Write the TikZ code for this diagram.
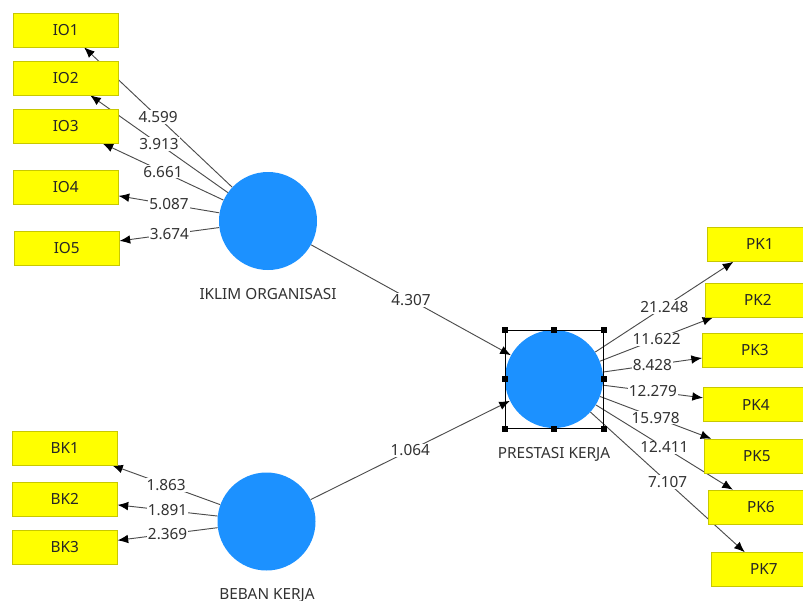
\documentclass[tikz,border=0pt]{standalone}
\usepackage{fontspec}
\setmainfont{Noto Sans}
\usepackage{tikz}
\usetikzlibrary{arrows.meta, backgrounds}

\definecolor{boxyellow}{RGB}{255,255,0}
\definecolor{boxedge}{RGB}{200,200,0}
\definecolor{latentblue}{RGB}{28,145,255}
\definecolor{inktext}{RGB}{50,50,50}

\tikzset{
  indicator/.style={draw=boxedge, fill=boxyellow, minimum width=78.75pt, minimum height=25.5pt,
    inner sep=0pt, anchor=west, font=\fontsize{11.5}{13}\selectfont, text=black!85},
  latent/.style={circle, fill=latentblue, minimum size=73.5pt, inner sep=0pt},
  latentname/.style={anchor=north, inner sep=0pt, font=\fontsize{11.5}{13}\selectfont, text=inktext},
  loading/.style={draw=black!70, line width=0.7pt, -{Latex[length=8pt,width=6.5pt,color=black]}},
  coef/.style={midway, fill=white, inner sep=0.8pt, font=\fontsize{11.5}{13}\selectfont, text=inktext},
  handle/.style={fill=black, minimum size=4.5pt, inner sep=0pt}
}

\begin{document}
\begin{tikzpicture}[x=0.75pt, y=-0.75pt]
  \useasboundingbox (0,0) rectangle (803,600);

  % constructs
  \node[latent] (io) at (268,221) {};
  \node[latent] (bk) at (266.5,521.5) {};
  \node[latent] (pk) at (554,379) {};
  \node[latentname] at (268,288) {IKLIM ORGANISASI};
  \node[latentname] at (267,588) {BEBAN KERJA};
  \node[latentname] at (554,447) {PRESTASI KERJA};

  % selection frame round PRESTASI KERJA
  \node[draw=black, line width=0.75pt, minimum size=73.5pt, inner sep=0pt] (sel) at (554,379) {};
  \foreach \a in {north west, north, north east, east, south east, south, south west, west}
    \node[handle] at (sel.\a) {};

  % indicators
  \node[indicator] (io1) at (13,30) {IO1};
  \node[indicator] (io2) at (13,78) {IO2};
  \node[indicator] (io3) at (13,126) {IO3};
  \node[indicator] (io4) at (13,187) {IO4};
  \node[indicator] (io5) at (14,248) {IO5};

  \node[indicator] (bk1) at (12,448) {BK1};
  \node[indicator] (bk2) at (12,499) {BK2};
  \node[indicator] (bk3) at (12,547) {BK3};

  \node[indicator] (pk1) at (707,244.5) {PK1};
  \node[indicator] (pk2) at (705,300) {PK2};
  \node[indicator] (pk3) at (702,350.5) {PK3};
  \node[indicator] (pk4) at (703,404.5) {PK4};
  \node[indicator] (pk5) at (704,456) {PK5};
  \node[indicator] (pk6) at (708,507) {PK6};
  \node[indicator] (pk7) at (711,569.5) {PK7};

  \begin{pgfonlayer}{background}
    % outer loadings
    \draw[loading] (io) -- node[coef]{4.599} (io1);
    \draw[loading] (io) -- node[coef]{3.913} (io2);
    \draw[loading] (io) -- node[coef]{6.661} (io3);
    \draw[loading] (io) -- node[coef]{5.087} (io4);
    \draw[loading] (io) -- node[coef]{3.674} (io5);

    \draw[loading] (bk) -- node[coef]{1.863} (bk1);
    \draw[loading] (bk) -- node[coef]{1.891} (bk2);
    \draw[loading] (bk) -- node[coef]{2.369} (bk3);

    \draw[loading] (pk) -- node[coef]{21.248} (pk1);
    \draw[loading] (pk) -- node[coef]{11.622} (pk2);
    \draw[loading] (pk) -- node[coef]{8.428} (pk3);
    \draw[loading] (pk) -- node[coef]{12.279} (pk4);
    \draw[loading] (pk) -- node[coef]{15.978} (pk5);
    \draw[loading] (pk) -- node[coef]{12.411} (pk6);
    \draw[loading] (pk) -- node[coef]{7.107} (pk7);

    % inner model
    \draw[loading] (io) -- node[coef]{4.307} (pk);
    \draw[loading] (bk) -- node[coef]{1.064} (pk);
  \end{pgfonlayer}
\end{tikzpicture}
\end{document}
